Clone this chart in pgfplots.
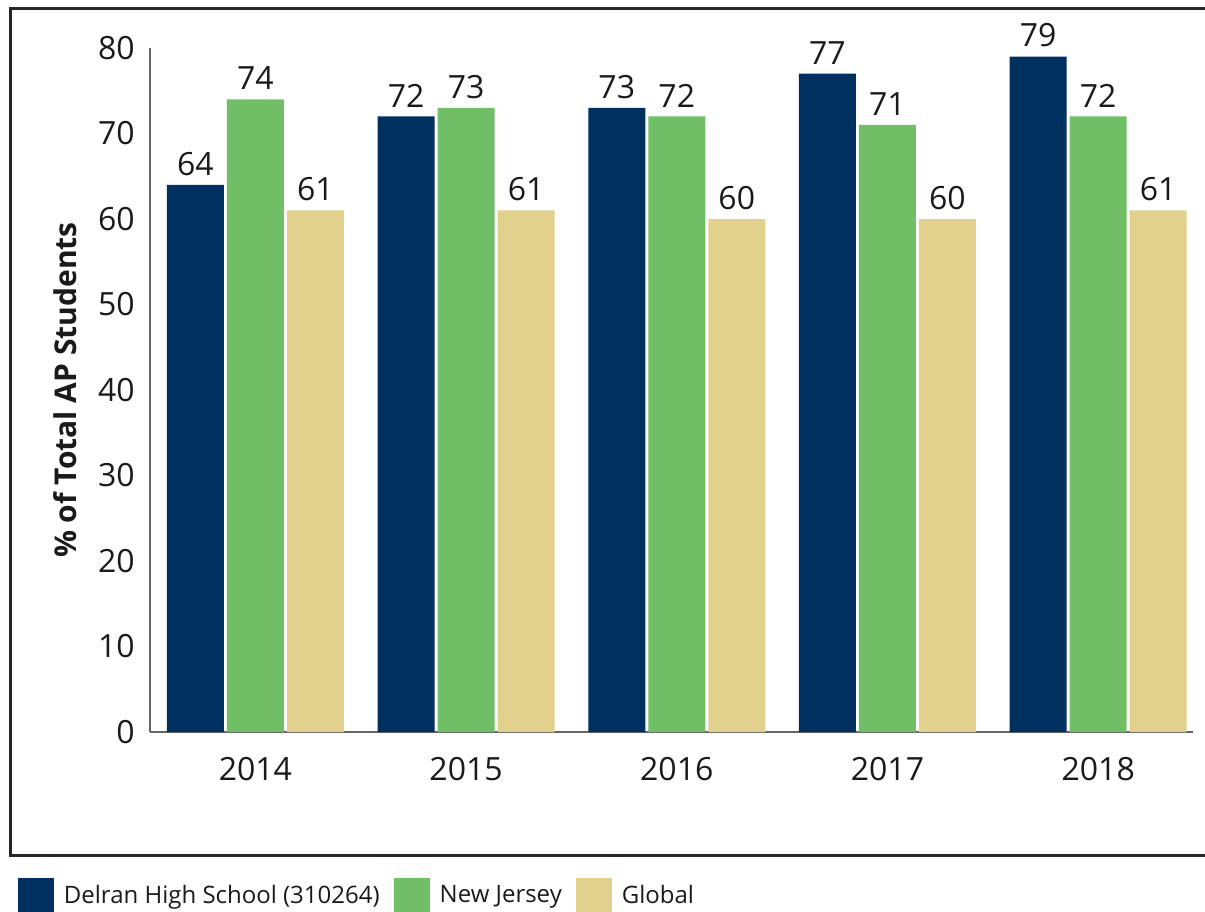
\documentclass[border=0pt]{standalone}
\usepackage{fontspec}
\setmainfont{Open Sans}
\usepackage{pgfplots}
\pgfplotsset{compat=1.18}
\definecolor{navy}{HTML}{00305F}
\definecolor{njgreen}{HTML}{70BF66}
\definecolor{sand}{HTML}{E1D18C}
\definecolor{axisgray}{HTML}{666666}
\definecolor{txt}{HTML}{1A1A1A}

\begin{document}
\begin{tikzpicture}
\begin{axis}[
    at={(0pt,0pt)}, anchor=south west,
    scale only axis, width=521.5pt, height=342pt,
    ybar=1.5pt, bar width=28.5pt,
    xmin=-0.5, xmax=4.45, ymin=0, ymax=80,
    xtick={0,1,2,3,4},
    xticklabels={2014,2015,2016,2017,2018},
    ytick={0,10,...,80},
    axis lines=left,
    axis line style={-, draw=axisgray, line width=0.6pt},
    major tick length=0pt,
    /pgf/number format/assume math mode=true,
    tick label style={font=\fontsize{16}{19}\selectfont, text=txt},
    yticklabel style={inner sep=0pt, anchor=east, xshift=-7.5pt},
    xticklabel style={inner sep=0pt, anchor=north, yshift=-12.5pt},
    ylabel={\% of Total AP Students},
    every axis y label/.style={at={(axis description cs:-0.0815,0.5)},
        rotate=90, anchor=center, font=\bfseries\fontsize{15}{18}\selectfont, text=txt},
    nodes near coords,
    every node near coord/.append style={font=\fontsize{16}{19}\selectfont,
        text=txt, inner sep=0pt, anchor=south, yshift=4.5pt},
    legend style={at={(axis description cs:-0.1266,-0.2412)}, anchor=west,
        draw=none, fill=none, inner sep=0pt, outer sep=0pt,
        font=\fontsize{12}{14}\selectfont, text=txt,
        nodes={inner sep=0pt},
        /tikz/every odd column/.append style={column sep=5pt},
        /tikz/every even column/.append style={column sep=7pt}},
    legend columns=-1,
    legend cell align=left,
    legend image code/.code={\fill[#1] (0pt,-10pt) rectangle (18pt,8.5pt);},
]
\addplot[fill=navy, draw=none] coordinates {(0,64) (1,72) (2,73) (3,77) (4,79)};
\addplot[fill=njgreen, draw=none] coordinates {(0,74) (1,73) (2,72) (3,71) (4,72)};
\addplot[fill=sand, draw=none] coordinates {(0,61) (1,61) (2,60) (3,60) (4,61)};
\legend{Delran High School (310264), New Jersey, Global}
\end{axis}
\draw[line width=1.5pt, color=black!85] (532pt,361.5pt) -- (-69.5pt,361.5pt) -- (-69.5pt,-61.5pt) -- (532pt,-61.5pt);
\pgfresetboundingbox
\useasboundingbox (-75pt,-89.5pt) rectangle (527.5pt,366pt);
\end{tikzpicture}
\end{document}
